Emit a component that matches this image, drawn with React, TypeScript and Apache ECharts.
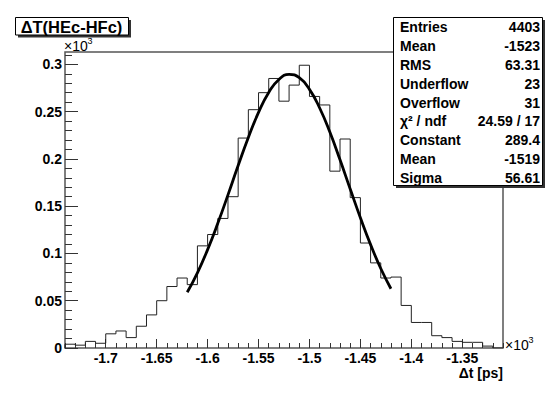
import React, { useEffect, useRef } from "react";
import * as echarts from "echarts";

// Histogram: bins of 10 ps starting at -1740 ps
const binStart = -1740;
const binWidth = 10;
const binCounts = [
  4, 3, 7, 5, 15, 18, 11, 23, 35, 50,
  65, 74, 67, 108, 120, 137, 160, 222, 252, 270,
  285, 261, 278, 299, 266, 257, 187, 221, 159, 111,
  90, 74, 75, 45, 27, 27, 13, 11, 7, 6,
  6, 2, 0,
];

// Fit curve samples
const fitX = [
  -1620, -1610, -1600, -1590, -1580, -1570, -1560, -1550, -1540, -1530, -1520,
  -1510, -1500, -1490, -1480, -1470, -1460, -1450, -1440, -1430, -1420,
];
const fitY = [
  58.9, 79.5, 104.0, 131.8, 161.9, 192.9, 222.6, 249.1, 270.2, 284.0, 289.3,
  285.8, 273.5, 253.8, 228.3, 199.0, 168.1, 137.7, 109.3, 84.1, 62.7,
];

// Axes
const xMin = -1740;
const xMax = -1310;
const yMin = 0;
const yMax = 313;
const xMajorTicks = [-1700, -1650, -1600, -1550, -1500, -1450, -1400, -1350];
const yMajorTicks = [0, 50, 100, 150, 200, 250, 300];
const minorStep = 10;

// Title and stats box
const titleText = "ΔT(HEc-HFc)";
const xTitle = "Δt [ps]";
const statsLabels = ["Entries", "Mean", "RMS", "Underflow", "Overflow", "χ² / ndf", "Constant", "Mean", "Sigma"];
const statsValues = ["4403", "-1523", "63.31", "23", "31", "24.59 / 17", "289.4", "-1519", "56.61"];

const FONT = '"Liberation Sans", Arial, Helvetica, sans-serif';

export default function App() {
  const ref = useRef<HTMLDivElement>(null);

  useEffect(() => {
    if (!ref.current) return;
    const chart = echarts.init(ref.current, null, { renderer: "svg" });

    const histPoints: number[][] = [[binStart, 0]];
    binCounts.forEach((c, i) => {
      const lo = binStart + i * binWidth;
      histPoints.push([lo, c], [lo + binWidth, c]);
    });
    histPoints.push([binStart + binCounts.length * binWidth, 0]);

    const fitData = fitX.map((x, i) => [x, fitY[i]]);

    const xMinorTicks: number[] = [];
    for (let v = xMin; v <= xMax; v += minorStep) xMinorTicks.push(v);
    const yMinorTicks: number[] = [];
    for (let v = yMin; v <= yMax; v += minorStep) yMinorTicks.push(v);

    const tickStyle = { color: "#333", width: 1 };
    const labelStyle = {
      fontFamily: FONT,
      fontWeight: "bold" as const,
      fontSize: 14,
      color: "#000",
    };

    const rowY0 = 27.2;
    const rowH = 18.85;
    const statsGraphics: any[] = [];
    statsLabels.forEach((lab, i) => {
      statsGraphics.push({
        type: "text",
        x: 400,
        y: rowY0 + i * rowH,
        z: 102,
        style: {
          text: lab,
          font: `bold 14px ${FONT}`,
          fill: "#000",
          align: "left",
          verticalAlign: "middle",
        },
      });
      statsGraphics.push({
        type: "text",
        x: 540,
        y: rowY0 + i * rowH,
        z: 102,
        style: {
          text: statsValues[i],
          font: `bold 14px ${FONT}`,
          fill: "#000",
          align: "right",
          verticalAlign: "middle",
        },
      });
    });

    const option: any = {
      animation: false,
      backgroundColor: "#fff",
      grid: {
        left: 65,
        right: 51,
        top: 52,
        bottom: 47,
        show: true,
        borderColor: "#555",
        borderWidth: 1.5,
        backgroundColor: "transparent",
        outerBoundsMode: "none",
      },
      xAxis: [
        {
          type: "value",
          min: xMin,
          max: xMax,
          position: "bottom",
          axisLine: { show: false },
          splitLine: { show: false },
          axisTick: { show: true, inside: true, length: 9, customValues: xMajorTicks, lineStyle: tickStyle },
          axisLabel: {
            ...labelStyle,
            customValues: xMajorTicks,
            margin: 3,
            formatter: (v: number) => String(v / 1000),
          },
          name: xTitle,
          nameLocation: "end",
          nameGap: 0,
          nameTextStyle: {
            ...labelStyle,
            align: "right",
            verticalAlign: "top",
            padding: [18, 0, 0, 0],
          },
        },
        {
          type: "value",
          min: xMin,
          max: xMax,
          position: "bottom",
          axisLine: { show: false },
          splitLine: { show: false },
          axisTick: { show: true, inside: true, length: 5, customValues: xMinorTicks, lineStyle: tickStyle },
          axisLabel: { show: false },
        },
      ],
      yAxis: [
        {
          type: "value",
          min: yMin,
          max: yMax,
          position: "left",
          axisLine: { show: false },
          splitLine: { show: false },
          axisTick: { show: true, inside: true, length: 13, customValues: yMajorTicks, lineStyle: tickStyle },
          axisLabel: {
            ...labelStyle,
            customValues: yMajorTicks,
            margin: 3,
            formatter: (v: number) => String(v / 1000),
          },
        },
        {
          type: "value",
          min: yMin,
          max: yMax,
          position: "left",
          axisLine: { show: false },
          splitLine: { show: false },
          axisTick: { show: true, inside: true, length: 7, customValues: yMinorTicks, lineStyle: tickStyle },
          axisLabel: { show: false },
        },
      ],
      series: [
        {
          type: "line",
          name: "histogram",
          xAxisIndex: 0,
          yAxisIndex: 0,
          data: histPoints,
          symbol: "none",
          showSymbol: false,
          lineStyle: { color: "#222", width: 1 },
          z: 2,
        },
        {
          type: "line",
          name: "gaus fit",
          xAxisIndex: 0,
          yAxisIndex: 0,
          data: fitData,
          smooth: true,
          symbol: "none",
          showSymbol: false,
          lineStyle: { color: "#000", width: 2.8 },
          z: 3,
        },
      ],
      graphic: [
        // title box
        { type: "rect", z: 100, shape: { x: 18, y: 20, width: 113, height: 17.5 }, style: { fill: "#333" } },
        { type: "rect", z: 101, shape: { x: 15.5, y: 17.5, width: 113, height: 17.5 }, style: { fill: "#fff", stroke: "#000", lineWidth: 1 } },
        {
          type: "text",
          z: 102,
          x: 71.5,
          y: 26.8,
          style: { text: titleText, font: `bold 16.5px ${FONT}`, fill: "#000", align: "center", verticalAlign: "middle" },
        },
        // stats box
        { type: "rect", z: 100, shape: { x: 396, y: 20, width: 149, height: 168 }, style: { fill: "#333" } },
        { type: "rect", z: 101, shape: { x: 393.5, y: 17.5, width: 149, height: 168 }, style: { fill: "#fff", stroke: "#000", lineWidth: 1 } },
        ...statsGraphics,
        // exponent labels
        {
          type: "text",
          z: 102,
          x: 64,
          y: 45.5,
          style: { text: "×10", font: `14px ${FONT}`, fill: "#000", align: "left", verticalAlign: "middle" },
        },
        {
          type: "text",
          z: 102,
          x: 87.5,
          y: 40.5,
          style: { text: "3", font: `9px ${FONT}`, fill: "#000", align: "left", verticalAlign: "middle" },
        },
        {
          type: "text",
          z: 102,
          x: 505,
          y: 345,
          style: { text: "×10", font: `14px ${FONT}`, fill: "#000", align: "left", verticalAlign: "middle" },
        },
        {
          type: "text",
          z: 102,
          x: 528.5,
          y: 340,
          style: { text: "3", font: `9px ${FONT}`, fill: "#000", align: "left", verticalAlign: "middle" },
        },
      ],
    };

    chart.setOption(option);
    return () => chart.dispose();
  }, []);

  return (
    <div
      ref={ref}
      style={{ position: "fixed", left: 0, top: 0, width: 554, height: 395, background: "#fff" }}
    />
  );
}
